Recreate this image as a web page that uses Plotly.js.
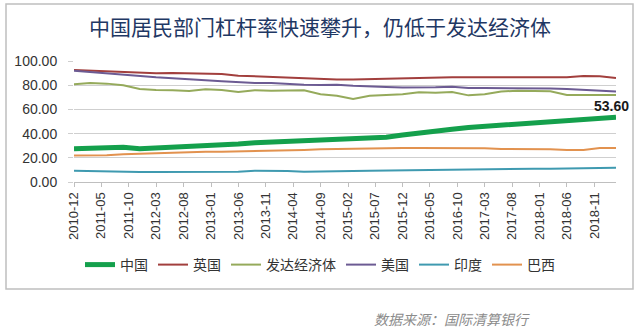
<!DOCTYPE html>
<html>
<head>
<meta charset="utf-8">
<script src="https://cdn.plot.ly/plotly-3.0.1.min.js"></script>
<style>
html,body{margin:0;padding:0;background:#fff;}
#chart{width:640px;height:332px;}
</style>
</head>
<body>
<div id="chart"></div>
<script>
const quarters = ['2010-12','2011-03','2011-06','2011-09','2011-12','2012-03','2012-06','2012-09','2012-12','2013-03','2013-06','2013-09','2013-12','2014-03','2014-06','2014-09','2014-12','2015-03','2015-06','2015-09','2015-12','2016-03','2016-06','2016-09','2016-12','2017-03','2017-06','2017-09','2017-12','2018-03','2018-06','2018-09','2018-12','2019-03'];
const china  = [27.5,27.8,28.4,28.7,27.5,28.1,28.4,29.5,29.8,30.0,31.4,32.5,33.1,33.6,34.4,35.3,35.5,35.7,36.4,37.0,38.8,40.6,42.1,43.6,45.0,46.0,46.8,47.9,48.9,49.6,50.4,51.2,52.4,53.6];
const uk     = [92.6,92.0,91.2,90.6,89.8,89.8,90.1,89.8,89.3,89.3,87.9,87.3,87.1,86.0,85.7,84.9,84.8,84.8,85.1,85.4,86.0,86.0,86.5,86.5,86.5,86.5,86.5,86.5,86.5,86.5,86.5,87.6,87.3,86.0];
const developed = [80.7,81.8,81.3,79.9,76.9,76.0,75.8,75.2,76.6,76.0,74.4,75.8,75.5,75.5,75.8,72.5,71.3,68.6,71.3,71.9,72.5,74.1,73.8,74.4,71.6,72.5,74.7,75.5,75.5,75.0,72.0,71.9,71.9,71.9];
const us     = [92.0,90.9,89.5,88.7,87.6,86.5,85.7,84.6,84.0,83.2,82.2,81.8,81.8,81.0,80.4,80.2,80.4,79.5,78.8,78.5,78.2,78.0,78.3,78.8,77.7,77.7,77.7,77.6,77.4,77.2,76.9,76.2,75.6,74.7];
const india  = [9.4,9.0,8.6,8.3,8.3,8.3,8.3,8.3,8.4,8.4,8.5,9.4,9.4,9.0,8.4,8.4,8.7,9.0,9.4,9.6,9.8,9.9,10.0,10.1,10.3,10.5,10.6,10.8,10.9,11.0,11.1,11.2,11.3,11.8];
const brazil = [22.0,22.0,22.2,23.0,23.5,24.0,24.3,24.6,25.0,25.1,25.3,25.6,26.0,26.3,26.5,27.0,27.3,27.8,28.1,28.1,28.1,28.1,28.1,28.1,28.0,27.8,27.3,27.3,27.5,27.0,26.4,26.5,28.1,28.1];
const tickLabels = ['2010-12','2011-05','2011-10','2012-03','2012-08','2013-01','2013-06','2013-11','2014-04','2014-09','2015-02','2015-07','2015-12','2016-05','2016-10','2017-03','2017-08','2018-01','2018-06','2018-11'];
const yTicks = [0,20,40,60,80,100];
const seriesNames = ['中国','英国','发达经济体','美国','印度','巴西'];
const titleText = '中国居民部门杠杆率快速攀升，仍低于发达经济体';
const sourceText = '数据来源：国际清算银行';

const cjk = '"Noto Sans CJK SC", "Noto Sans", sans-serif';
const lat = '"Liberation Sans", Arial, sans-serif';

const defs = [
  {y: china, color:'#14A04C', width:5},
  {y: uk, color:'#A23F3D', width:2},
  {y: developed, color:'#95AA5B', width:2},
  {y: us, color:'#6C5B93', width:2},
  {y: india, color:'#3F9AB0', width:2},
  {y: brazil, color:'#E2924F', width:2}
];
const traces = defs.map((d,i)=>({
  type:'scatter', mode:'lines', x: quarters, y: d.y, name: seriesNames[i],
  line:{color:d.color, width:d.width}, hoverinfo:'skip'
}));

const last = quarters.length-1;
const layout = {
  width:640, height:332,
  margin:{l:74, r:24, t:61, b:150},
  paper_bgcolor:'#ffffff', plot_bgcolor:'#ffffff',
  showlegend:true,
  title:{text:titleText, x:0.5, xref:'container', xanchor:'center', y:1-28/332, yref:'container', yanchor:'middle',
         font:{family:cjk, size:21, color:'#1F3864'}},
  xaxis:{type:'date', range:[quarters[0]+'-01', quarters[last]+'-01'],
         tickvals: tickLabels.map(t=>t+'-01'), ticktext: tickLabels,
         tickangle:-90, ticks:'outside', ticklen:4, tickcolor:'#BFBFBF',
         showline:true, linecolor:'#BFBFBF', linewidth:1, showgrid:false, zeroline:false,
         tickfont:{family:lat, size:13, color:'#333333'}, fixedrange:true},
  yaxis:{range:[0,100], tickvals:yTicks, ticktext:yTicks.map(v=>v.toFixed(2)),
         showgrid:true, gridcolor:'#CFCFCF', gridwidth:1, zeroline:false, showline:false,
         ticks:'outside', ticklen:5, tickcolor:'#CFCFCF', ticklabelstandoff:8,
         tickfont:{family:lat, size:14, color:'#333333'}, fixedrange:true},
  legend:{orientation:'h', xref:'container', yref:'container', x:0.5, xanchor:'center', y:1-265/332, yanchor:'middle',
          font:{family:cjk, size:14, color:'#333333'}, bgcolor:'rgba(0,0,0,0)', traceorder:'normal'},
  annotations:[
    {x: quarters[last]+'-01', y: china[last], xref:'x', yref:'y', text:'<b>'+china[last].toFixed(2)+'</b>',
     showarrow:false, xanchor:'center', yanchor:'bottom', xshift:-5, yshift:1,
     font:{family:lat, size:14, color:'#1a1a1a'}},
    {x:(372-74)/542, y:(182-319)/121, xref:'paper', yref:'paper', text:'<i>'+sourceText+'</i>',
     showarrow:false, xanchor:'left', yanchor:'middle', font:{family:cjk, size:14, color:'#8C8C8C'}}
  ],
  shapes:[
    {type:'rect', xref:'paper', yref:'paper', x0:(6-74)/542, x1:(633-74)/542, y0:(182-289)/121, y1:(182-4)/121,
     line:{color:'#BFBFBF', width:1.5}, fillcolor:'rgba(0,0,0,0)', layer:'below'}
  ]
};
Plotly.newPlot('chart', traces, layout, {staticPlot:true, displayModeBar:false});
</script>
</body>
</html>
